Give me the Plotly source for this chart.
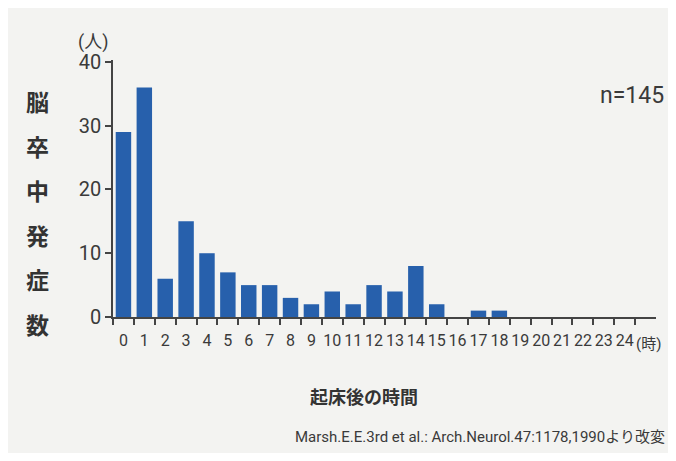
import plotly.graph_objects as go

# ---- data ----
hours = [str(h) for h in range(25)]
counts = [29, 36, 6, 15, 10, 7, 5, 5, 3, 2, 4, 2, 5, 4, 8, 2, 0, 1, 1, 0, 0, 0, 0, 0, 0]
y_ticks = [0, 10, 20, 30, 40]
y_title_chars = list("脳卒中発症数")
x_title = "起床後の時間"
y_unit = "(人)"
x_unit = "(時)"
n_label = "n=145"
source = "Marsh.E.E.3rd et al.: Arch.Neurol.47:1178,1990より改変"

NARROW = "Liberation Sans Narrow, Roboto, Noto Sans CJK JP, sans-serif"
CJK = "Noto Sans CJK JP, sans-serif"
TXT = "#3a3a3a"
BG = "#f3f3f1"

# page body has an 8px margin: size the figure so it fits the 676x461 window
OFF = 8
W, H = 676 - OFF, 461 - 2 * OFF
L, R = 113 - OFF, 20
T = 60 - OFF
PLOT_BOTTOM = 317 - OFF
B = H - PLOT_BOTTOM
PW, PH = W - L - R, H - T - B

fig = go.Figure()
fig.add_trace(go.Bar(x=hours, y=counts, marker=dict(color="#2760ac", line=dict(width=0)),
                     width=0.74, hoverinfo="x+y"))

fig.update_layout(
    width=W, height=H,
    margin=dict(l=L, r=R, t=T, b=B, pad=0),
    paper_bgcolor=BG, plot_bgcolor=BG,
    showlegend=False,
    xaxis=dict(type="category", range=[-0.5, 25.5], tickson="boundaries",
               tickmode="array", tickvals=hours, ticktext=hours, tickangle=0,
               ticks="outside", ticklen=6, tickwidth=1.5, tickcolor="#444",
               ticklabelstandoff=8,
               showline=True, linecolor="#444", linewidth=1.6,
               showgrid=False, zeroline=False,
               tickfont=dict(family=NARROW, size=16, color=TXT)),
    yaxis=dict(range=[0, 40.3], tickvals=y_ticks,
               ticks="outside", ticklen=6, tickwidth=1.5, tickcolor="#444",
               showline=True, linecolor="#444", linewidth=1.6,
               showgrid=False, zeroline=False,
               tickfont=dict(family=NARROW, size=20, color=TXT)),
)


def px_x(rx):
    # reference-pixel x -> paper fraction (plot area)
    return (rx - OFF - L) / PW


def px_y(ry):
    return (PLOT_BOTTOM - (ry - OFF)) / PH


ann = []
for i, ch in enumerate(y_title_chars):
    ann.append(dict(text=ch, xref="paper", yref="paper", x=px_x(37), y=px_y(101 + i * 44.5),
                    xanchor="center", yanchor="middle", showarrow=False,
                    font=dict(family=CJK, size=23, color="#333", weight="bold")))
ann.append(dict(text=y_unit, xref="paper", yref="paper", x=px_x(93), y=px_y(42),
                xanchor="center", yanchor="middle", showarrow=False,
                font=dict(family=NARROW, size=18, color=TXT)))
ann.append(dict(text=x_unit, xref="paper", yref="paper", x=px_x(648), y=px_y(344),
                xanchor="center", yanchor="middle", showarrow=False,
                font=dict(family=NARROW, size=15, color=TXT)))
ann.append(dict(text=n_label, xref="paper", yref="paper", x=px_x(632), y=px_y(96),
                xanchor="center", yanchor="middle", showarrow=False,
                font=dict(family=NARROW, size=23, color=TXT)))
ann.append(dict(text=x_title, xref="paper", yref="paper", x=px_x(364), y=px_y(396),
                xanchor="center", yanchor="middle", showarrow=False,
                font=dict(family=CJK, size=18, color="#333", weight="bold")))
ann.append(dict(text=source, xref="paper", yref="paper", x=px_x(480), y=px_y(437),
                xanchor="center", yanchor="middle", showarrow=False,
                font=dict(family=NARROW, size=15, color=TXT)))
fig.update_layout(annotations=ann)

fig.write_html("out.html")
